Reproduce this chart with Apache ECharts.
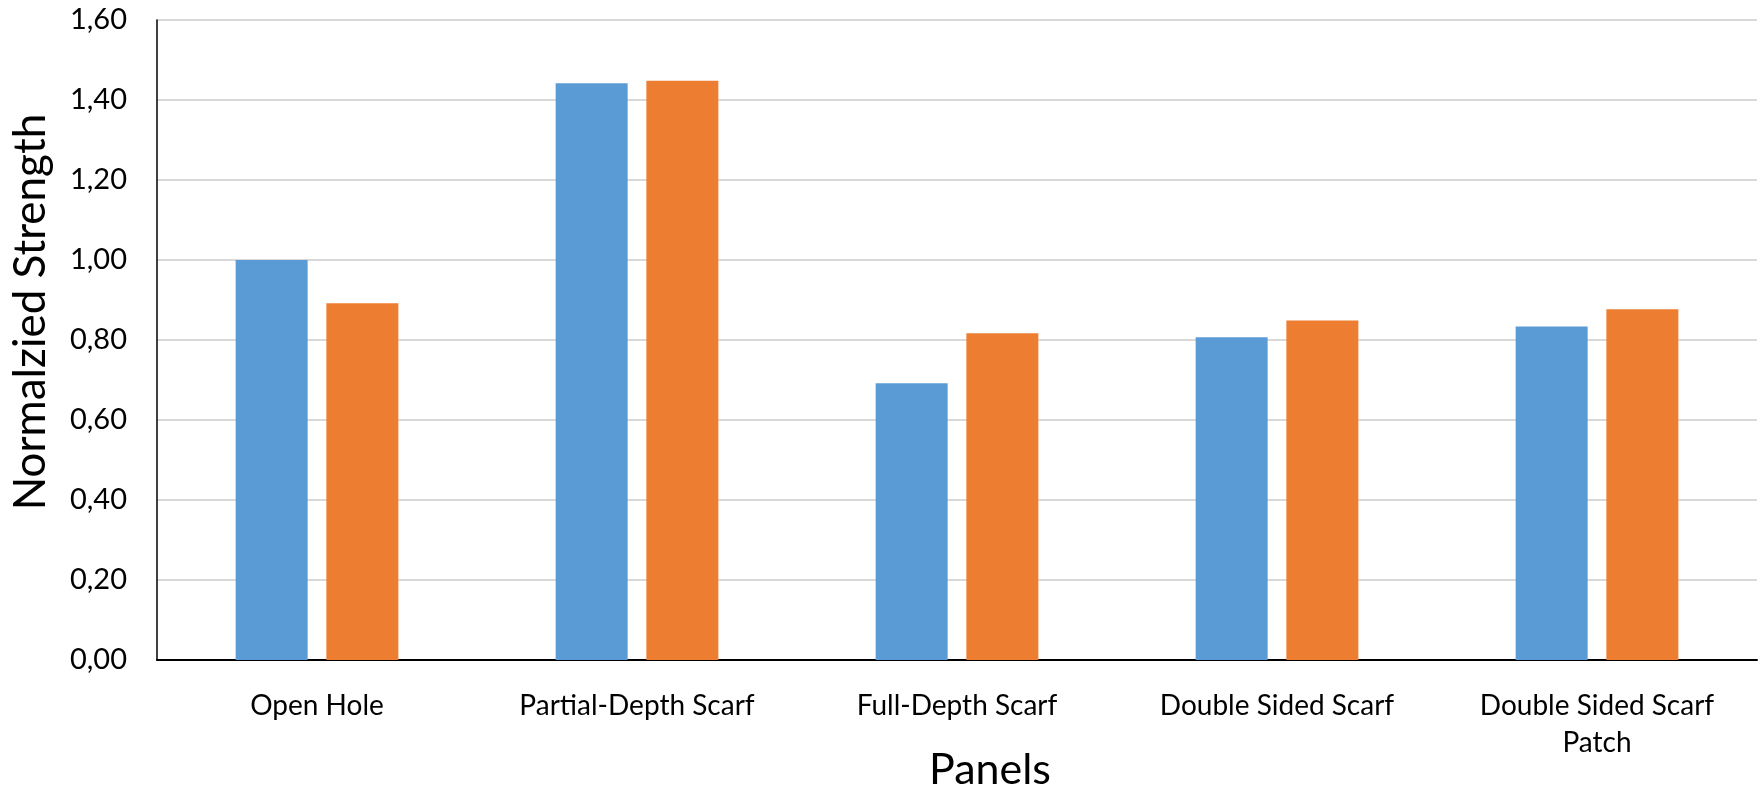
<!DOCTYPE html>
<html>
<head>
<meta charset="utf-8">
<title>Normalized Strength by Panel</title>
<script src="https://cdn.jsdelivr.net/npm/echarts@6/dist/echarts.min.js"></script>
<style>
  html, body { margin: 0; padding: 0; background: #ffffff; overflow: hidden; }
  #chart { width: 1763px; height: 790px; }
</style>
</head>
<body>
<div id="chart"></div>
<script>
// Panel configurations along the x axis
const categories = [
  'Open Hole',
  'Partial-Depth Scarf',
  'Full-Depth Scarf',
  'Double Sided Scarf',
  'Double Sided Scarf\nPatch'
];

// Normalized strength, two test series
const seriesA = [1.00, 1.442, 0.692, 0.807, 0.834];
const seriesB = [0.892, 1.448, 0.817, 0.849, 0.877];

// Value axis range and step
const yMin = 0;
const yMax = 1.6;
const yStep = 0.2;

const FONT = 'Lato, "Open Sans", sans-serif';

const chart = echarts.init(document.getElementById('chart'), null, { renderer: 'canvas' });

chart.setOption({
  animation: false,
  backgroundColor: '#ffffff',
  grid: {
    left: 157, right: 6, top: 20, bottom: 130,
    containLabel: false,
    outerBoundsMode: 'none'
  },
  xAxis: {
    type: 'category',
    data: categories,
    axisLine: { show: true, lineStyle: { color: '#000000', width: 2 } },
    axisTick: { show: false },
    axisLabel: {
      fontFamily: FONT, fontSize: 28, color: '#000000',
      margin: 27, lineHeight: 37, interval: 0, verticalAlign: 'top'
    },
    splitLine: { show: false }
  },
  yAxis: {
    type: 'value',
    min: yMin,
    max: yMax,
    interval: yStep,
    axisLine: { show: true, lineStyle: { color: '#000000', width: 1.5 } },
    axisTick: { show: false },
    axisLabel: {
      fontFamily: FONT, fontSize: 29, color: '#000000', margin: 30,
      formatter: v => v.toFixed(2).replace('.', ',')
    },
    splitLine: { show: true, lineStyle: { color: '#d9d9d9', width: 2 } }
  },
  graphic: [
    // value axis title
    {
      type: 'text',
      x: 31, y: 312,
      rotation: Math.PI / 2,
      style: {
        text: 'Normalzied Strength',
        fontFamily: FONT, fontSize: 44, fill: '#000000',
        align: 'center', verticalAlign: 'middle'
      }
    },
    // category axis title
    {
      type: 'text',
      x: 990, y: 770,
      style: {
        text: 'Panels',
        fontFamily: FONT, fontSize: 43, fill: '#000000',
        align: 'center', verticalAlign: 'middle'
      }
    }
  ],
  series: [
    {
      name: 'Series 1',
      type: 'bar',
      data: seriesA,
      barWidth: 72,
      barGap: '26%',
      itemStyle: { color: '#5b9bd5' }
    },
    {
      name: 'Series 2',
      type: 'bar',
      data: seriesB,
      barWidth: 72,
      barGap: '26%',
      itemStyle: { color: '#ed7d31' }
    }
  ]
});
</script>
</body>
</html>
